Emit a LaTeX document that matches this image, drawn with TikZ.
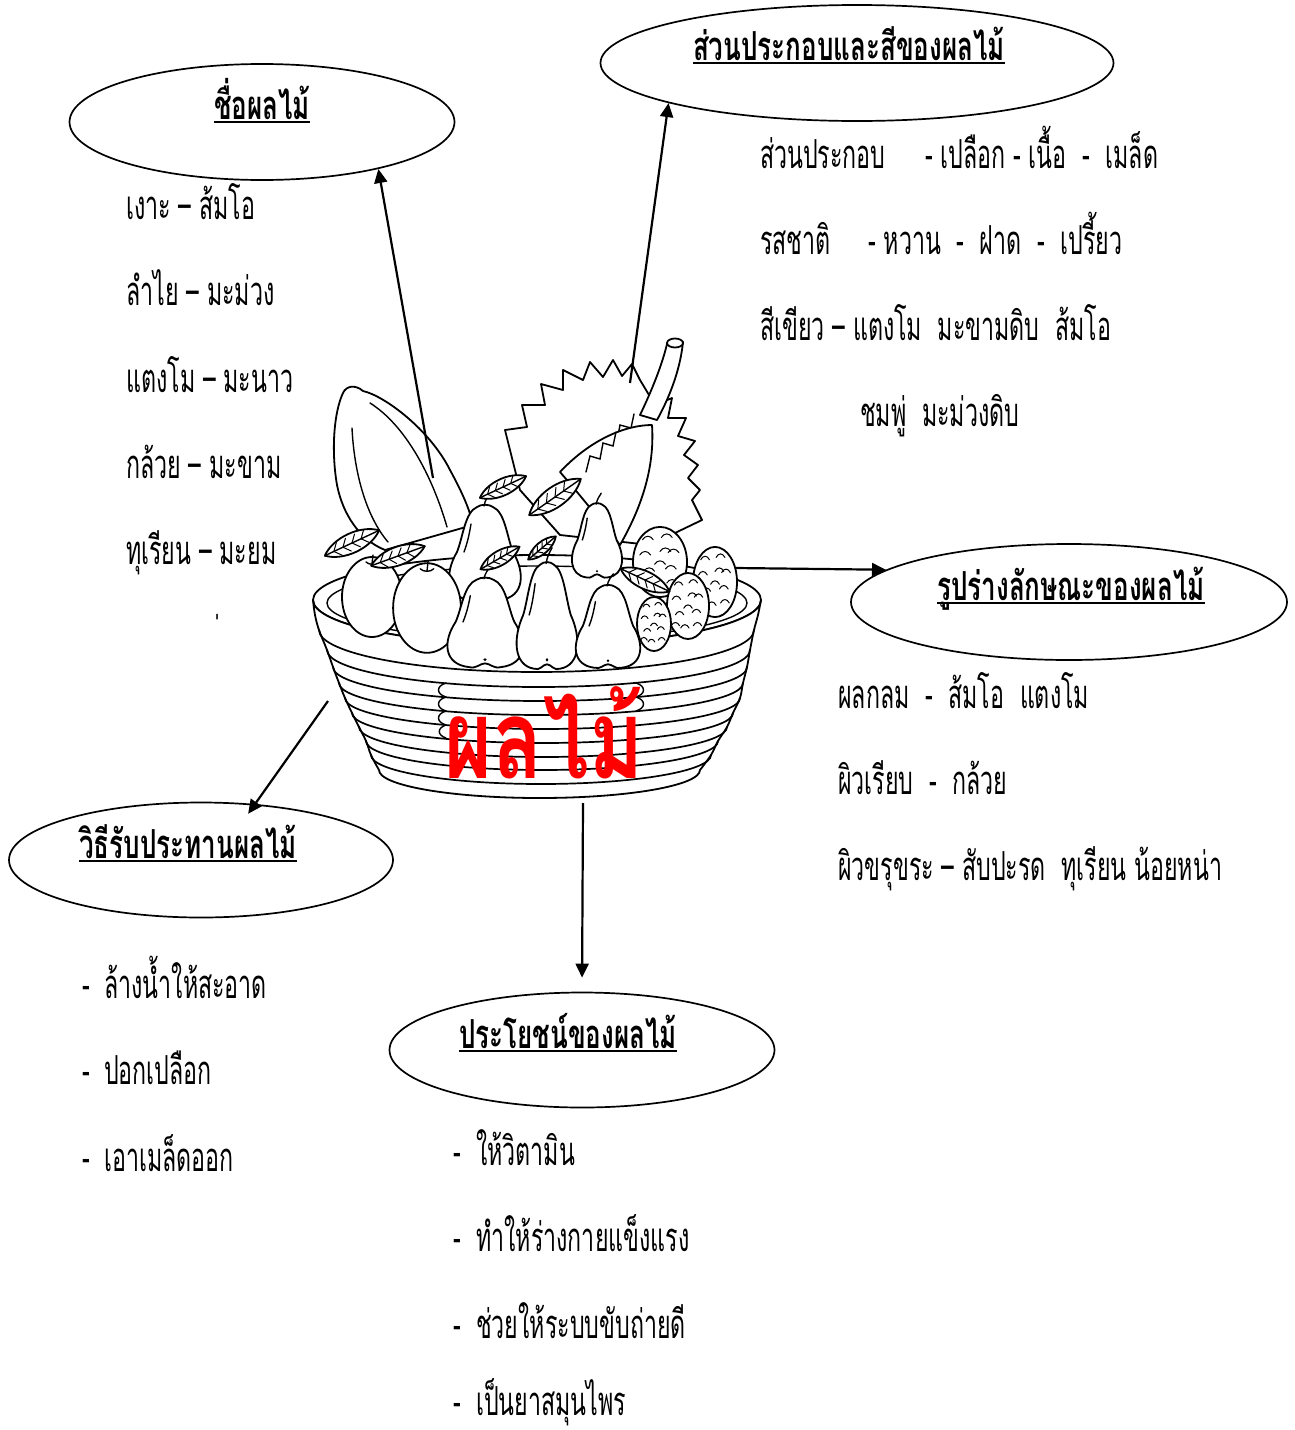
\documentclass[tikz,border=0pt]{standalone}
\usepackage{fontspec}
\setmainfont{Loma}[Script=Thai,FakeStretch=0.58]
\newfontfamily\ttlfont{Loma}[Script=Thai,FakeStretch=0.65]
\newfontfamily\bigfont{Loma}[Script=Thai,FakeStretch=0.75]
\usetikzlibrary{shapes.geometric,arrows.meta}
\tikzset{
  bubble/.style={ellipse, draw, line width=1.7pt, inner sep=0pt},
  ttl/.style={anchor=base, inner sep=0pt, font=\fontsize{40}{40}\ttlfont\bfseries},
  txt/.style={anchor=base west, inner sep=0pt, font=\fontsize{40}{40}\selectfont},
  arr/.style={line width=2.2pt, -{Triangle[length=14pt,width=13pt]}},
  uline/.style={line width=1.5pt},
  fr/.style={draw=black, fill=white, line width=1.8pt, line join=round, line cap=round},
  ln/.style={draw=black, line width=1.4pt, line cap=round},
  rib/.style={draw=black, line width=1.7pt, line cap=round},
  vein/.style={draw=black, line width=1pt, line cap=round},
  pear/.pic={
    \path[fr] (-8,-45) .. controls (-20,-40) and (-22,-15) .. (-28,0)
      .. controls (-40,20) and (-40,45) .. (-15,48) .. controls (-8,50) and (-5,44) .. (0,44)
      .. controls (5,44) and (8,50) .. (15,48) .. controls (40,45) and (40,20) .. (28,0)
      .. controls (22,-15) and (20,-40) .. (8,-45) .. controls (4,-48) and (-4,-48) .. (-8,-45) -- cycle;
    \draw[ln] (-1,-46) .. controls (0,-52) and (3,-56) .. (6,-60);
    \draw[ln] (-14,-28) .. controls (-16,-16) and (-18,-8) .. (-21,0);
    \fill (0,40) circle[radius=1.6];
  },
  orange/.pic={
    \path[fr] (0,0) ellipse[x radius=30,y radius=40];
    \draw[ln] (-6,-35) .. controls (-3,-32) and (3,-32) .. (6,-35);
    \draw[ln] (0,-33) -- (1,-42);
  },
  leaf/.pic={
    \path[fr] (-30,0) .. controls (-15,-13) and (15,-13) .. (30,0) .. controls (15,13) and (-15,13) .. (-30,0) -- cycle;
    \draw[ln] (-30,0) -- (30,0);
    \foreach \a in {-20,-10,0,10} {
      \draw[vein] (\a,0) -- (\a+6,-7);
      \draw[vein] (\a,0) -- (\a+6,7);
    }
  },
  ramb/.pic={
    \path[fr] (0,0) ellipse[x radius=20,y radius=30];
    \foreach \p/\q in {-9/-19,5/-21,-11/-6,4/-9,-8/8,8/6,-3/20,9/18,0/2,-12/18,10/-8} {
      \draw[vein] (\p-4,\q) .. controls (\p-2,\q-4) and (\p+2,\q-4) .. (\p+4,\q);
    }
  },
}
\begin{document}
\begin{tikzpicture}[x=1pt,y=-1pt]
\useasboundingbox (0,0) rectangle (1295,1430);
\fill[white] (0,0) rectangle (1295,1430);

% ---------- basket ----------
\path[fr] (537,600) ellipse[x radius=224,y radius=45];
\draw[ln] (537,603) ellipse[x radius=210,y radius=37];
\path[fr] plot[smooth,tension=0.6] coordinates {(313,600) (315,615) (319,630) (327,650) (333,667) (339,683) (345,698) (352,713) (359,727) (366,741) (371,755) (379,770)}
  arc[start angle=180,end angle=0,x radius=160.5,y radius=28]
  -- plot[smooth,tension=0.6] coordinates {(700,770) (711,755) (718,741) (727,727) (733,713) (740,698) (743,683) (747,667) (750,650) (754,630) (758,615) (761,600)}
  arc[start angle=0,end angle=180,x radius=224,y radius=45] -- cycle;
\draw[rib] (319,630) arc[start angle=180,end angle=0,x radius=217.5,y radius=42];
\draw[rib] (327,650) arc[start angle=180,end angle=0,x radius=211.5,y radius=37];
\draw[rib] (333,667) arc[start angle=180,end angle=0,x radius=207,y radius=34];
\draw[rib] (339,683) arc[start angle=180,end angle=0,x radius=202,y radius=32];
\draw[rib] (345,698) arc[start angle=180,end angle=0,x radius=197.5,y radius=31];
\draw[rib] (352,713) arc[start angle=180,end angle=0,x radius=190.5,y radius=30];
\draw[rib] (359,727) arc[start angle=180,end angle=0,x radius=184,y radius=30];
\draw[rib] (366,741) arc[start angle=180,end angle=0,x radius=176,y radius=29];
\draw[rib] (371,755) arc[start angle=180,end angle=0,x radius=170,y radius=29];
\draw[ln] (446,683) .. controls (436,686) and (436,694) .. (446,697);
\draw[ln] (446,697) .. controls (436,700) and (436,708) .. (446,711);
\draw[ln] (446,711) .. controls (436,714) and (436,722) .. (446,725);
\draw[ln] (446,725) .. controls (437,728) and (437,735) .. (446,738);
\draw[ln] (636,683) .. controls (646,686) and (646,694) .. (636,697);
\draw[ln] (636,697) .. controls (646,700) and (646,708) .. (636,711);

% ---------- papaya ----------
\path[fr] (343,393) .. controls (346,386) and (355,384) .. (363,391)
  .. controls (385,396) and (430,430) .. (450,470) .. controls (462,492) and (470,510) .. (473,525)
  -- (385,550) .. controls (360,540) and (343,515) .. (337,485)
  .. controls (331,450) and (334,412) .. (343,393) -- cycle;
\draw[ln] (352,428) .. controls (354,470) and (365,515) .. (388,542);
\draw[ln] (370,403) .. controls (405,425) and (432,475) .. (447,527);

% ---------- durian ----------
\path[fr] (510,450) -- (505,430) -- (527,427) -- (522,405) -- (545,405) -- (541,384) -- (563,390)
  -- (563,370) -- (583,380) -- (590,362) -- (603,377) -- (613,360) -- (622,376) -- (632,364) -- (640,380)
  -- (655,405) -- (672,398) -- (668,418) -- (686,418) -- (678,436) -- (695,441) -- (684,455)
  -- (698,465) -- (688,478) -- (700,490) -- (692,500) -- (702,520) -- (650,545) -- (560,535) -- (520,490) -- cycle;
\draw[ln] (588,470) -- (592,452) -- (603,455) -- (606,438) -- (617,441) -- (620,425) -- (631,428) -- (634,414);
\path[fr] (560,472) .. controls (590,440) and (625,425) .. (652,425)
  .. controls (655,470) and (640,510) .. (620,545) .. controls (600,520) and (580,495) .. (560,472) -- cycle;
\draw[ln] (586,472) -- (590,456) -- (600,459) -- (603,443) -- (613,446) -- (616,432);
\path[fr] (640,415) .. controls (652,390) and (662,365) .. (667,344) -- (683,342)
  .. controls (680,372) and (668,400) .. (657,420) -- cycle;
\path[fr] (675,343) ellipse[x radius=8,y radius=4.5];

% ---------- fruits ----------
\pic at (485,552) {pear};
\pic[xscale=0.7,yscale=0.78] at (597,540) {pear};
\pic[rotate=25,scale=0.85] at (503,487) {leaf};
\pic[rotate=35,scale=1.05] at (555,497) {leaf};
\pic[xscale=1.35,yscale=1.17] at (660,562) {ramb};
\pic[xscale=1.1,yscale=1.17] at (715,582) {ramb};
\pic at (372,597) {orange};
\pic[xscale=1.13,yscale=1.12] at (427,608) {orange};
\pic[rotate=25] at (352,543) {leaf};
\pic[rotate=20,scale=0.95] at (398,556) {leaf};
\pic[xscale=1.05,yscale=0.94] at (485,622) {pear};
\pic[rotate=30,scale=0.75] at (500,558) {leaf};
\pic[rotate=40,scale=0.6] at (542,548) {leaf};
\pic[xscale=0.85,yscale=1.12] at (547,615) {pear};
\pic[xscale=0.9,yscale=0.87] at (608,626) {pear};
\pic[xscale=1.05,yscale=1.1] at (688,606) {ramb};
\pic[xscale=0.85,yscale=0.9] at (654,624) {ramb};
\pic[rotate=-25,scale=0.9] at (645,580) {leaf};

\node[font=\fontsize{110}{110}\bigfont\bfseries, text=red, anchor=base, inner sep=0pt] (big) at (544,778) {ผลไม้};

% ---------- bubbles ----------
\node[bubble, minimum width=385pt, minimum height=116pt] (e1) at (262,122) {};
\node[bubble, minimum width=513pt, minimum height=116pt] (e2) at (857,63) {};
\node[bubble, minimum width=436pt, minimum height=116pt] (e3) at (1069,602) {};
\node[bubble, minimum width=384pt, minimum height=115pt] (e4) at (201,860) {};
\node[bubble, minimum width=385pt, minimum height=115pt] (e5) at (582,1050) {};

\node[ttl] (t1) at (262,119) {ชื่อผลไม้};
\node[ttl] (t2) at (849,60) {ส่วนประกอบและสีของผลไม้};
\node[ttl] (t3) at (1071,600) {รูปร่างลักษณะของผลไม้};
\node[ttl] (t4) at (188,858) {วิธีรับประทานผลไม้};
\node[ttl] (t5) at (568,1048) {ประโยชน์ของผลไม้};
\foreach \t in {t1,t2,t3,t4,t5} {
  \draw[uline] ([yshift=-3pt]\t.base west) -- ([yshift=-3pt]\t.base east);
}

% ---------- arrows ----------
\coordinate (s1) at (433,478);
\coordinate (s2) at (630,383);
\coordinate (s3) at (735,568);
\coordinate (s4) at (328,701);
\coordinate (s5) at (583,803);
\draw[arr] (s1) -- (e1.-22);
\draw[arr] (s2) -- (e2.192);
\draw[arr] (s3) -- (e3.170.5);
\draw[arr, shorten >=-12pt] (s4) -- (e4.46);
\draw[arr, shorten >=14pt] (s5) -- (e5.north);

% ---------- texts ----------
\node[txt] (a1) at (126,219) {เงาะ – ส้มโอ};
\node[txt] (a2) at (126,305) {ลำไย – มะม่วง};
\node[txt] (a3) at (126,392) {แตงโม – มะนาว};
\node[txt] (a4) at (126,478) {กล้วย – มะขาม};
\node[txt] (a5) at (126,564) {ทุเรียน – มะยม};
\node[txt] (a6) at (214,655) {^^^^00a0่};

\node[txt] (b1) at (760,168) {\makebox[165pt][l]{ส่วนประกอบ}- เปลือก - เนื้อ\ \ -\ \ เมล็ด};
\node[txt] (b2) at (760,254) {\makebox[108pt][l]{รสชาติ}- หวาน\ \ -\ \ ฝาด\ \ -\ \ เปรี้ยว};
\node[txt] (b3) at (760,340) {สีเขียว – แตงโม\ \ มะขามดิบ\ \ ส้มโอ};
\node[txt] (b4) at (860,426) {ชมพู่\ \ มะม่วงดิบ};

\node[txt] (c1) at (838,708) {ผลกลม\ \ -\ \ ส้มโอ\ \ แตงโม};
\node[txt] (c2) at (838,794) {ผิวเรียบ\ \ -\ \ กล้วย};
\node[txt] (c3) at (838,880) {ผิวขรุขระ – สับปะรด\ \ ทุเรียน น้อยหน่า};

\node[txt] (d1) at (82,998) {\makebox[22pt][l]{-}ล้างน้ำให้สะอาด};
\node[txt] (d2) at (82,1084) {\makebox[22pt][l]{-}ปอกเปลือก};
\node[txt] (d3) at (82,1171) {\makebox[22pt][l]{-}เอาเมล็ดออก};

\node[txt] (f1) at (453,1165) {\makebox[23pt][l]{-}ให้วิตามิน};
\node[txt] (f2) at (453,1251) {\makebox[23pt][l]{-}ทำให้ร่างกายแข็งแรง};
\node[txt] (f3) at (453,1338) {\makebox[23pt][l]{-}ช่วยให้ระบบขับถ่ายดี};
\node[txt] (f4) at (453,1415) {\makebox[23pt][l]{-}เป็นยาสมุนไพร};
\end{tikzpicture}
\end{document}
